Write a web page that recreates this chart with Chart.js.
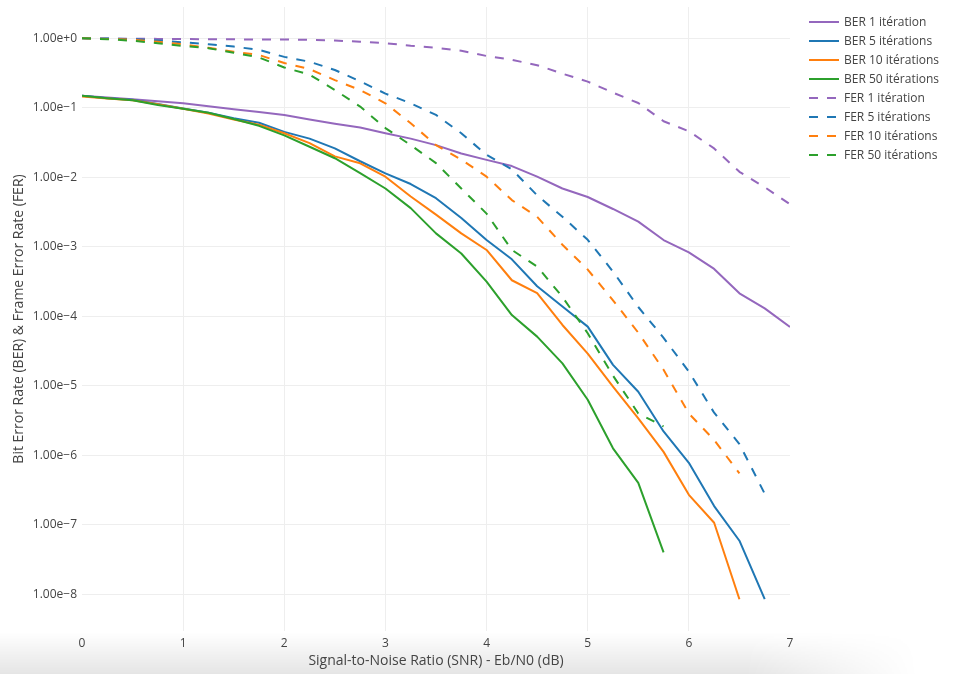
<!DOCTYPE html>
<html>
<head>
<meta charset="utf-8">
<script src="https://cdn.jsdelivr.net/npm/chart.js@4.4.1/dist/chart.umd.min.js"></script>
<style>
  html, body { margin: 0; padding: 0; background: #fff; }
  #wrap { position: relative; width: 956px; height: 674px; overflow: hidden; }
  #shade { position: absolute; left: 0; top: 632px; width: 956px; height: 42px;
    background: linear-gradient(to bottom, rgba(0,0,0,0) 0%, rgba(0,0,0,0.05) 50%, rgba(0,0,0,0.1) 100%);
    -webkit-mask-image: linear-gradient(to right, #000 0%, #000 78%, transparent 96%);
    mask-image: linear-gradient(to right, #000 0%, #000 78%, transparent 96%); }
  #c { position: absolute; left: 0; top: 0; }
  #legend { position: absolute; left: 809px; top: 0; font-family: "Open Sans", sans-serif; font-size: 12px; color: #444; }
  .row { position: absolute; left: 0; height: 16px; line-height: 16px; white-space: nowrap; }
  .row svg { position: absolute; left: 0; top: 0; }
  .row span { position: absolute; left: 35px; top: 0; }
</style>
</head>
<body>
<div id="wrap">
  <div id="shade"></div>
  <canvas id="c" width="956" height="674"></canvas>
  <div id="legend"></div>
</div>
<script>
// ---- data ----
const snr = [0,0.25,0.5,0.75,1,1.25,1.5,1.75,2,2.25,2.5,2.75,3,3.25,3.5,3.75,4,4.25,4.5,4.75,5,5.25,5.5,5.75,6,6.25,6.5,6.75,7];

const ber1  = [0.149,0.141,0.133,0.124,0.116,0.105,0.095,0.087,0.079,0.068,0.059,0.052,0.043,0.036,0.029,0.022,0.0178,0.0145,0.0102,0.0069,0.0052,0.0035,0.0023,0.00125,0.00083,0.00048,0.000214,0.00013,0.00007];
const ber5  = [0.149,0.137,0.13,0.113,0.098,0.085,0.0705,0.061,0.045,0.036,0.026,0.017,0.0114,0.008,0.005,0.0026,0.00125,0.00066,0.00027,0.000138,7.1e-5,2.0e-5,8.2e-6,2.2e-6,7.8e-7,1.86e-7,5.9e-8,8.5e-9];
const ber10 = [0.145,0.136,0.128,0.112,0.097,0.083,0.068,0.057,0.043,0.031,0.02,0.0159,0.0102,0.0053,0.0029,0.00156,0.0009,0.00033,0.000215,7.5e-5,2.9e-5,9.7e-6,3.4e-6,1.12e-6,2.7e-7,1.07e-7,8.5e-9];
const ber50 = [0.149,0.137,0.128,0.11,0.097,0.085,0.069,0.055,0.04,0.0275,0.0188,0.0115,0.0069,0.0036,0.00156,0.0008,0.000316,1.04e-4,5.1e-5,2.1e-5,6.3e-6,1.26e-6,4.0e-7,4.0e-8];
const fer1  = [1.0,0.99,0.985,0.98,0.975,0.97,0.965,0.962,0.96,0.95,0.93,0.89,0.85,0.78,0.73,0.66,0.556,0.49,0.41,0.31,0.238,0.165,0.117,0.064,0.046,0.026,0.012,0.0072,0.0041];
const fer5  = [1.0,0.99,0.97,0.93,0.875,0.82,0.76,0.68,0.54,0.46,0.35,0.24,0.16,0.116,0.079,0.043,0.021,0.013,0.0055,0.0027,0.00126,4.4e-4,1.36e-4,4.9e-5,1.6e-5,4.1e-6,1.45e-6,2.8e-7];
const fer10 = [1.0,0.98,0.95,0.89,0.82,0.73,0.64,0.575,0.44,0.36,0.25,0.18,0.116,0.06,0.029,0.018,0.0102,0.0047,0.0027,0.00107,0.00047,1.7e-4,5.8e-5,1.7e-5,4.0e-6,1.66e-6,5.5e-7];
const fer50 = [1.0,0.97,0.92,0.85,0.775,0.72,0.62,0.53,0.38,0.30,0.18,0.104,0.051,0.029,0.016,0.0069,0.003,0.0009,0.00052,1.9e-4,5.7e-5,1.4e-5,4.0e-6,2.6e-6];

const seriesNames = ["BER 1 itération","BER 5 itérations","BER 10 itérations","BER 50 itérations",
                     "FER 1 itération","FER 5 itérations","FER 10 itérations","FER 50 itérations"];
const seriesValues = [ber1, ber5, ber10, ber50, fer1, fer5, fer10, fer50];
const seriesColors = ["#9467bd","#1f77b4","#ff7f0e","#2ca02c","#9467bd","#1f77b4","#ff7f0e","#2ca02c"];
const seriesDashed = [false,false,false,false,true,true,true,true];
const yTickValues = [1e-8,1e-7,1e-6,1e-5,1e-4,1e-3,1e-2,1e-1,1e0];
const xTickValues = [0,1,2,3,4,5,6,7];

const xTitle = "Signal-to-Noise Ratio (SNR) - Eb/N0 (dB)";
const yTitle = "Bit Error Rate (BER) & Frame Error Rate (FER)";

// ---- chart ----
const n = seriesNames.length;
const datasets = seriesNames.map((name, i) => ({
  label: name,
  data: seriesValues[i].map((v, k) => ({x: snr[k], y: v})),
  borderColor: seriesColors[i],
  backgroundColor: seriesColors[i],
  borderWidth: 2,
  borderDash: seriesDashed[i] ? [9, 9] : [],
  borderJoinStyle: 'round',
  pointRadius: 0,
  fill: false,
  tension: 0,
  order: n - 1 - i
}));

const FONT = '"Open Sans", sans-serif';

function supLabel(v) {
  const e = Math.round(Math.log10(v));
  return '1.00e' + (e >= 0 ? '+' : '\u2212') + Math.abs(e);
}

new Chart(document.getElementById('c'), {
  type: 'line',
  data: { datasets },
  options: {
    responsive: false,
    animation: false,
    devicePixelRatio: 1,
    layout: { padding: { left: 0, top: 7, right: 166, bottom: 0 } },
    plugins: { legend: { display: false }, tooltip: { enabled: false } },
    scales: {
      x: {
        type: 'linear',
        min: 0, max: 7,
        afterFit: s => { s.height = 43; s.paddingLeft = 0; s.paddingRight = 0; },
        afterBuildTicks: s => { s.ticks = xTickValues.map(v => ({value: v})); },
        grid: {
          color: ctx => (ctx.tick && (ctx.tick.value === 0 || ctx.tick.value === 7)) ? 'rgba(0,0,0,0)' : '#eeeeee',
          lineWidth: 1, drawTicks: false
        },
        border: { display: false },
        ticks: { padding: 5, color: '#444', font: { family: FONT, size: 12 }, maxRotation: 0,
                 callback: v => String(v) },
        title: { display: true, text: xTitle, color: '#444', font: { family: FONT, size: 14 },
                 padding: { top: 0, bottom: 5 } }
      },
      y: {
        type: 'logarithmic',
        min: Math.pow(10, -8.528), max: Math.pow(10, 0.45),
        afterFit: s => { s.width = 82; s.paddingTop = 0; s.paddingBottom = 0; },
        afterBuildTicks: s => { s.ticks = yTickValues.map(v => ({value: v})); },
        grid: { color: '#eeeeee', lineWidth: 1, drawTicks: false },
        border: { display: false },
        ticks: { padding: 5, color: '#444', font: { family: FONT, size: 12 },
                 autoSkip: false, callback: v => supLabel(v) },
        title: { display: true, text: yTitle, color: '#444', font: { family: FONT, size: 14 },
                 padding: { top: 11, bottom: 0 } }
      }
    }
  }
});

// ---- legend (HTML text) ----
const legend = document.getElementById('legend');
seriesNames.forEach((name, i) => {
  const row = document.createElement('div');
  row.className = 'row';
  row.style.top = (21.7 + 19 * i - 8) + 'px';
  const dash = seriesDashed[i] ? ' stroke-dasharray="9,9"' : '';
  row.innerHTML = '<svg width="32" height="16"><line x1="0" y1="8" x2="30" y2="8" stroke="' +
    seriesColors[i] + '" stroke-width="2"' + dash + '/></svg><span></span>';
  row.querySelector('span').textContent = name;
  legend.appendChild(row);
});
</script>
</body>
</html>
